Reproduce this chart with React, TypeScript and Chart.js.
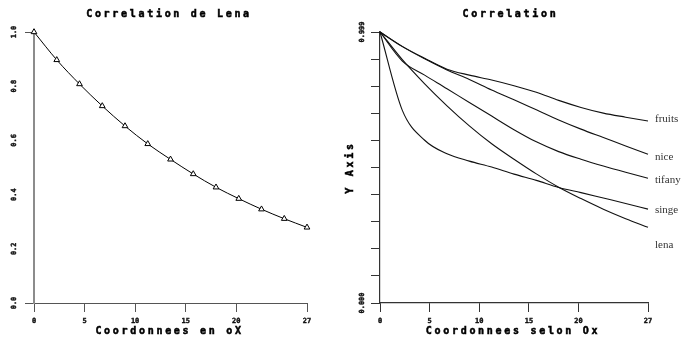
import React, { useEffect, useRef } from 'react';
import { Chart, registerables } from 'chart.js';

Chart.register(...registerables);

// ---- data ----
const distances = [0, 2.25, 4.5, 6.75, 9, 11.25, 13.5, 15.75, 18, 20.25, 22.5, 24.75, 27];
const lena = [1.0, 0.897, 0.808, 0.727, 0.653, 0.587, 0.53, 0.476, 0.427, 0.385, 0.346, 0.311, 0.279];
const fruits = [0.999, 0.946, 0.902, 0.862, 0.84, 0.822, 0.801, 0.777, 0.747, 0.721, 0.7, 0.685, 0.671];
const nice = [0.999, 0.945, 0.9, 0.859, 0.824, 0.785, 0.749, 0.712, 0.675, 0.641, 0.61, 0.579, 0.548];
const tifany = [0.999, 0.892, 0.84, 0.79, 0.739, 0.689, 0.639, 0.594, 0.558, 0.53, 0.505, 0.482, 0.46];
const singe = [0.999, 0.71, 0.6, 0.55, 0.523, 0.501, 0.475, 0.452, 0.426, 0.407, 0.387, 0.367, 0.346];

const xTicks = [0, 5, 10, 15, 20, 27];
const leftYTicks = [0, 0.2, 0.4, 0.6, 0.8, 1.0];
const rightYTicks = [0, 0.0999, 0.1998, 0.2997, 0.3996, 0.4995, 0.5994, 0.6993, 0.7992, 0.8991, 0.999];

const seriesNames = ['fruits', 'nice', 'tifany', 'singe', 'lena'];
const seriesLabelValues = [0.678, 0.538, 0.453, 0.343, 0.214];

const leftTitle = 'Correlation de Lena';
const leftXTitle = 'Coordonnees en oX';
const rightTitle = 'Correlation';
const rightXTitle = 'Coordonnees selon Ox';
const rightYTitle = 'Y Axis';

const toPoints = (ys: number[]) => distances.map((x, i) => ({ x, y: ys[i] }));

const TITLE_FONT = 'bold 10px "DejaVu Sans Mono"';
const tickFont = { family: 'DejaVu Sans Mono', size: 7, weight: 'bold' as const };

const decorPlugin = {
  id: 'decor',
  afterDraw(chart: any, _args: any, opts: any) {
    const { ctx, chartArea } = chart;
    ctx.save();
    ctx.fillStyle = '#000';
    ctx.strokeStyle = '#000';
    ctx.lineWidth = 0.5;
    ctx.font = TITLE_FONT;
    (ctx as any).letterSpacing = '2.7px';
    ctx.textAlign = 'center';
    ctx.textBaseline = 'middle';
    const put = (t: string, x: number, y: number) => {
      ctx.fillText(t, x, y);
      ctx.strokeText(t, x, y);
    };
    if (opts.title) put(opts.title, chart.width / 2 - 1, chartArea.top / 2 - 2);
    if (opts.xTitle) put(opts.xTitle, (chartArea.left + chartArea.right) / 2 - 1, chart.height - 7);
    if (opts.yTitle) {
      ctx.save();
      ctx.translate(10, (chartArea.top + chartArea.bottom) / 2);
      ctx.rotate(-Math.PI / 2);
      put(opts.yTitle, 0, 0);
      ctx.restore();
    }
    if (opts.seriesLabels) {
      const yScale = chart.scales.y;
      (ctx as any).letterSpacing = '0px';
      ctx.font = '11px "Liberation Serif"';
      ctx.fillStyle = '#333';
      ctx.textAlign = 'left';
      opts.seriesLabels.forEach((l: any) => {
        ctx.fillText(l.text, chartArea.right + 7, yScale.getPixelForValue(l.value));
      });
    }
    ctx.restore();
  },
};

const tickText = { color: '#111', font: tickFont, textStrokeColor: '#111', textStrokeWidth: 0.4 };

function makeLeftConfig(): any {
  return {
    type: 'line',
    data: {
      datasets: [
        {
          label: 'lena',
          data: toPoints(lena),
          borderColor: '#000',
          borderWidth: 1,
          backgroundColor: '#fff',
          pointStyle: 'triangle',
          pointRadius: 3.3,
          pointBorderColor: '#000',
          pointBackgroundColor: '#fff',
          pointBorderWidth: 1,
          cubicInterpolationMode: 'monotone',
          clip: false,
        },
      ],
    },
    options: {
      animation: false,
      responsive: false,
      layout: { padding: { top: 32, right: 33, left: 0, bottom: 0 } },
      plugins: {
        legend: { display: false },
        title: { display: false },
        tooltip: { enabled: false },
        decor: { title: leftTitle, xTitle: leftXTitle },
      },
      scales: {
        x: {
          type: 'linear',
          min: 0,
          max: 27,
          afterBuildTicks: (s: any) => { s.ticks = xTicks.map((v) => ({ value: v })); },
          afterFit: (s: any) => { s.height = 35; },
          ticks: { ...tickText, padding: 5, maxRotation: 0, autoSkip: false, callback: (v: any) => String(v) },
          grid: { drawOnChartArea: false, tickLength: 9, tickColor: '#555', tickWidth: 1 },
          border: { color: '#555', width: 1 },
        },
        y: {
          type: 'linear',
          min: 0,
          max: 1,
          afterBuildTicks: (s: any) => { s.ticks = leftYTicks.map((v) => ({ value: v })); },
          afterFit: (s: any) => { s.width = 34; },
          ticks: {
            ...tickText,
            minRotation: 90,
            maxRotation: 90,
            crossAlign: 'center',
            padding: 4.5,
            autoSkip: false,
            callback: (v: any) => Number(v).toFixed(1),
          },
          grid: {
            drawOnChartArea: false,
            tickLength: 9,
            tickWidth: 1,
            tickColor: (c: any) => (c.index === 0 || c.index === leftYTicks.length - 1 ? '#555' : 'rgba(0,0,0,0)'),
          },
          border: { color: '#8c8c8c', width: 2 },
        },
      },
    },
    plugins: [decorPlugin],
  };
}

function makeRightConfig(): any {
  const all = [fruits, nice, tifany, singe, lena];
  return {
    type: 'line',
    data: {
      datasets: all.map((ys, i) => ({
        label: seriesNames[i],
        data: toPoints(ys),
        borderColor: '#111',
        borderWidth: 1.1,
        pointRadius: 0,
        cubicInterpolationMode: 'monotone',
        clip: false,
      })),
    },
    options: {
      animation: false,
      responsive: false,
      layout: { padding: { top: 32, right: 35, left: 0, bottom: 0 } },
      plugins: {
        legend: { display: false },
        title: { display: false },
        tooltip: { enabled: false },
        decor: {
          title: rightTitle,
          xTitle: rightXTitle,
          yTitle: rightYTitle,
          seriesLabels: seriesNames.map((t, i) => ({ text: t, value: seriesLabelValues[i] })),
        },
      },
      scales: {
        x: {
          type: 'linear',
          min: 0,
          max: 27,
          afterBuildTicks: (s: any) => { s.ticks = xTicks.map((v) => ({ value: v })); },
          afterFit: (s: any) => { s.height = 35; },
          ticks: { ...tickText, padding: 5, maxRotation: 0, autoSkip: false, callback: (v: any) => String(v) },
          grid: { drawOnChartArea: false, tickLength: 9, tickColor: '#333', tickWidth: 1 },
          border: { color: '#333', width: 1.2 },
        },
        y: {
          type: 'linear',
          min: 0,
          max: 0.999,
          afterBuildTicks: (s: any) => { s.ticks = rightYTicks.map((v) => ({ value: v })); },
          afterFit: (s: any) => { s.width = 40; },
          ticks: {
            ...tickText,
            minRotation: 90,
            maxRotation: 90,
            crossAlign: 'center',
            padding: -1.5,
            autoSkip: false,
            callback: (v: any, i: number, t: any[]) => (i === 0 || i === t.length - 1 ? Number(v).toFixed(3) : ''),
          },
          grid: { drawOnChartArea: false, tickLength: 9, tickColor: '#333', tickWidth: 1 },
          border: { color: '#333', width: 1.2 },
        },
      },
    },
    plugins: [decorPlugin],
  };
}

function ChartCanvas({ width, height, make }: { width: number; height: number; make: () => any }) {
  const ref = useRef<HTMLCanvasElement | null>(null);
  useEffect(() => {
    if (!ref.current) return;
    const chart = new Chart(ref.current, make());
    return () => chart.destroy();
  }, []);
  return <canvas ref={ref} width={width} height={height} style={{ display: 'block', width, height }} />;
}

export default function App() {
  return (
    <div style={{ position: 'absolute', left: 0, top: 0, width: 683, height: 338, display: 'flex', background: '#fff' }}>
      <ChartCanvas width={340} height={338} make={makeLeftConfig} />
      <ChartCanvas width={343} height={338} make={makeRightConfig} />
    </div>
  );
}
